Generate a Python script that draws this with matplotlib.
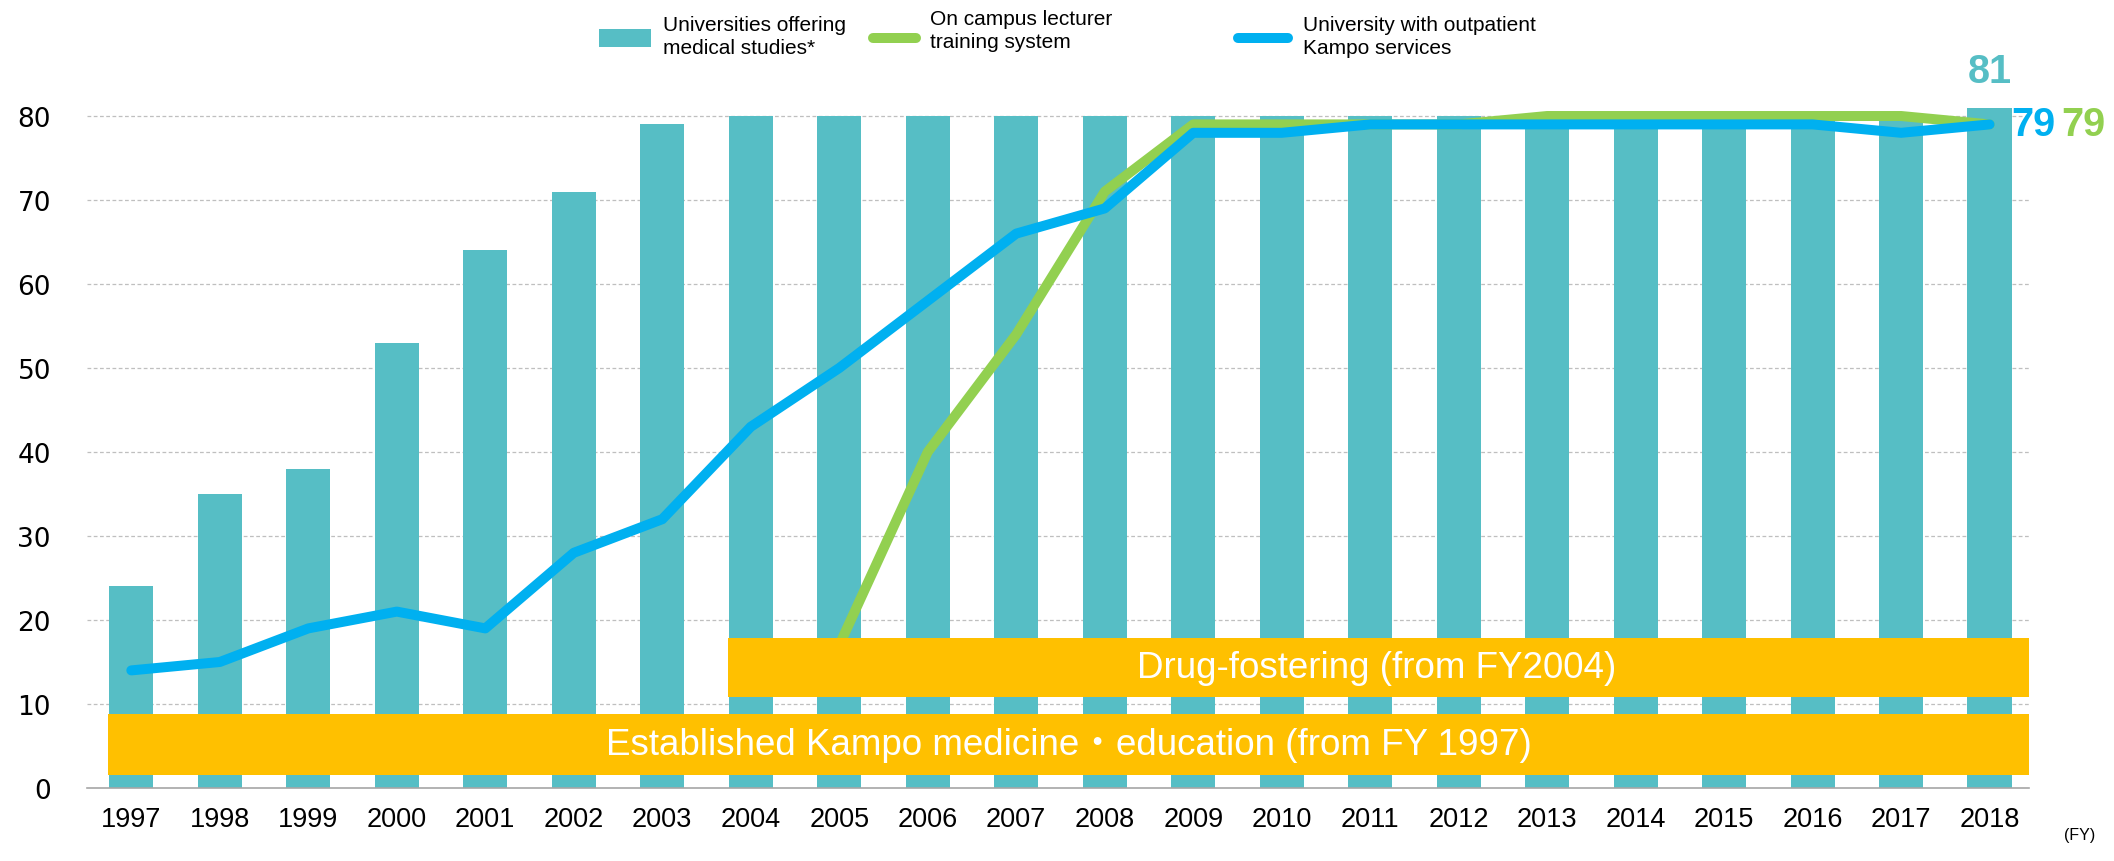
import matplotlib
matplotlib.use("Agg")
import matplotlib.pyplot as plt
import numpy as np
from matplotlib.patches import Rectangle
from matplotlib.lines import Line2D

years = [str(y) for y in range(1997, 2019)]
universities = [24, 35, 38, 53, 64, 71, 79, 80, 80, 80, 80, 80, 80, 80, 80, 80, 80, 80, 80, 80, 80, 81]
lecturer = [np.nan, np.nan, np.nan, np.nan, np.nan, np.nan, np.nan, np.nan,
            17, 40, 54, 71, 79, 79, 79, 79, 80, 80, 80, 80, 80, 79]
outpatient = [14, 15, 19, 21, 19, 28, 32, 43, 50, 58, 66, 69, 78, 78, 79, 79, 79, 79, 79, 79, 78, 79]
yticks = [0, 10, 20, 30, 40, 50, 60, 70, 80]

legend_labels = ["Universities offering\nmedical studies*",
                 "On campus lecturer\ntraining system",
                 "University with outpatient\nKampo services"]
band_texts = ["Established Kampo medicine・education (from FY 1997)",
              "Drug-fostering (from FY2004)"]
band_start_years = ["1997", "2004"]

C_BAR = "#56BEC5"
C_GREEN = "#92D050"
C_BLUE = "#00B0F0"
C_YEL = "#FFC000"

SANS = ["Liberation Sans", "Noto Sans CJK JP"]

fig = plt.figure(figsize=(21.14, 8.62), dpi=100)
ax = fig.add_axes([0.0412, 0.0847, 0.9188, 0.877])

x = np.arange(len(years))
ax.bar(x, universities, width=0.5, color=C_BAR, zorder=2)
ax.plot(x, lecturer, color=C_GREEN, lw=7.2, solid_capstyle="round", solid_joinstyle="round", zorder=3)
ax.plot(x, outpatient, color=C_BLUE, lw=7.2, solid_capstyle="round", solid_joinstyle="round", zorder=4)

ax.set_xlim(-0.5, 21.45)
ax.set_ylim(0, 90)
ax.set_yticks(yticks)
ax.set_xticks(x)
ax.set_xticklabels(years, family=SANS, fontsize=19.5)
for lbl in ax.get_yticklabels():
    lbl.set_family("DejaVu Sans")
    lbl.set_fontsize(19)
ax.tick_params(axis="both", length=0)
ax.tick_params(axis="x", pad=13)
ax.tick_params(axis="y", pad=26)
for side in ["top", "right", "left"]:
    ax.spines[side].set_visible(False)
ax.spines["bottom"].set_color("#A6A6A6")
ax.spines["bottom"].set_linewidth(1.2)
ax.set_axisbelow(True)
for yv in yticks[1:]:
    ax.axhline(yv, color="#BFBFBF", lw=0.9, ls=(0, (3, 2)), zorder=1)

# bands
xr = 21.45
band_bounds = [(1.6, 8.85), (10.8, 17.9)]
for txt, start, (b0, b1) in zip(band_texts, band_start_years, band_bounds):
    xs = years.index(start) - 0.26
    ax.add_patch(Rectangle((xs, b0), xr - xs, b1 - b0, facecolor=C_YEL, edgecolor="none", zorder=5))
ax.text(10.59, (1.6 + 8.85) / 2, band_texts[0], color="white", fontsize=26.5, family=SANS,
        ha="center", va="center", zorder=6)
ax.text(14.07, (10.8 + 17.9) / 2, band_texts[1], color="white", fontsize=26.5, family=SANS,
        ha="center", va="center", zorder=6)

# end labels
ax.text(21, 85.4, str(universities[-1]), color=C_BAR, fontsize=28.5, fontweight="bold",
        family="Liberation Sans", ha="center", va="center", zorder=6, clip_on=False)
ax.text(21.25, 79, str(outpatient[-1]), color=C_BLUE, fontsize=28.5, fontweight="bold",
        family="Liberation Sans", ha="left", va="center", zorder=6, clip_on=False)
ax.text(21.81, 79, str(lecturer[-1]), color=C_GREEN, fontsize=28.5, fontweight="bold",
        family="Liberation Sans", ha="left", va="center", zorder=6, clip_on=False)

fig.text(2080 / 2114, 1 - 836 / 862, "(FY)", fontsize=11.5, family="Liberation Sans",
         ha="center", va="center")

# legend
W, H = 2114, 862
fig.patches.append(Rectangle((599 / W, 1 - 48 / H), 52 / W, 18 / H, transform=fig.transFigure,
                             facecolor=C_BAR, edgecolor="none"))
fig.text(663 / W, 1 - 37 / H, legend_labels[0], fontsize=15, family=SANS, ha="left",
         va="center", linespacing=1.25)
fig.lines.append(Line2D([873 / W, 916 / W], [1 - 39 / H, 1 - 39 / H], transform=fig.transFigure,
                        color=C_GREEN, lw=7.2, solid_capstyle="round"))
fig.text(930 / W, 1 - 31 / H, legend_labels[1], fontsize=15, family=SANS, ha="left",
         va="center", linespacing=1.25)
fig.lines.append(Line2D([1238 / W, 1288 / W], [1 - 39 / H, 1 - 39 / H], transform=fig.transFigure,
                        color=C_BLUE, lw=7.2, solid_capstyle="round"))
fig.text(1303 / W, 1 - 37 / H, legend_labels[2], fontsize=15, family=SANS, ha="left",
         va="center", linespacing=1.25)

fig.savefig("out.png", dpi=100)
